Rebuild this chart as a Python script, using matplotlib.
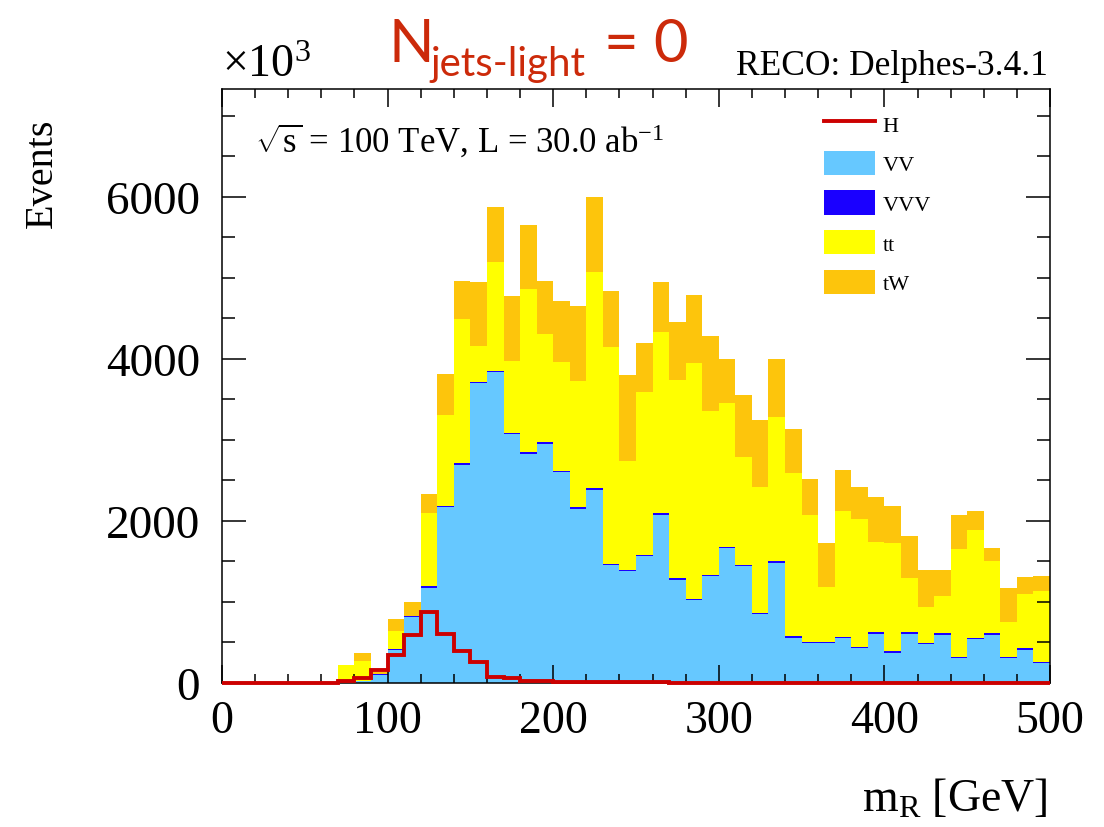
import numpy as np
import matplotlib
matplotlib.use('Agg')
from matplotlib import pyplot as plt
from matplotlib.patches import Patch
from matplotlib.lines import Line2D
from matplotlib.ticker import MultipleLocator

plt.rcParams['font.family'] = 'Liberation Serif'
plt.rcParams['mathtext.fontset'] = 'custom'
plt.rcParams['mathtext.rm'] = 'Liberation Serif'
plt.rcParams['mathtext.it'] = 'Liberation Serif:italic'

# m_R bins, 10 GeV wide, values in units of 10^3 events
edges = np.arange(0, 510, 10)
vv = [0, 0, 0, 0, 0, 0, 0, 5, 25, 100,
      410, 815, 1178, 2174, 2697, 3705, 3837, 3068, 2833, 2956,
      2606, 2154, 2388, 1454, 1384, 1569, 2080, 1277, 1022, 1322,
      1668, 1442, 849, 1487, 561, 495, 495, 557, 434, 610,
      376, 610, 479, 598, 310, 541, 598, 310, 413, 248]
vvv = [0, 0, 0, 0, 0, 0, 0, 0, 5, 5] + [15] * 40
tt = [0, 0, 0, 0, 0, 0, 0, 217, 246, 7,
      221, 0, 906, 1120, 1782, 444, 1341, 896, 2016, 1338,
      1346, 1559, 2675, 2683, 1346, 2012, 2234, 2453, 2914, 2025,
      1778, 1337, 1560, 1786, 2013, 1564, 671, 1556, 1571, 1120,
      1337, 667, 448, 457, 1329, 1333, 893, 432, 671, 877]
tw = [0, 0, 0, 0, 0, 0, 0, 0, 94, 20,
      144, 165, 234, 506, 473, 791, 679, 795, 790, 658,
      749, 930, 918, 692, 1057, 602, 626, 708, 839, 926,
      539, 765, 823, 712, 547, 445, 547, 502, 404, 555,
      457, 527, 453, 325, 420, 239, 165, 420, 206, 181]
higgs = [0, 0, 0, 0, 0, 0, 0, 30, 62, 165,
         346, 587, 882, 600, 400, 260, 80, 58, 30, 20,
         15, 12, 10, 10, 8, 8, 8, 6, 2, 2] + [2] * 20

labels = ['VV', 'VVV', 'tt', 'tW']
colors = ['#66c8ff', '#1a00ff', '#ffff00', '#fdc50c']

fig = plt.figure(figsize=(11.04, 8.28), dpi=100)
ax = fig.add_axes([222 / 1104, 1 - 684 / 828, 828 / 1104, 594 / 828])

bottom = np.zeros(len(vv))
for vals, col in zip([vv, vvv, tt, tw], colors):
    top = bottom + np.array(vals)
    ax.stairs(top, edges, baseline=bottom, fill=True, color=col, linewidth=0)
    bottom = top

ax.stairs(higgs, edges, color='#cc0000', linewidth=2.8, clip_on=False, zorder=5)

ax.set_xlim(0, 500)
ax.set_ylim(0, 7333)
ax.xaxis.set_major_locator(MultipleLocator(100))
ax.xaxis.set_minor_locator(MultipleLocator(20))
ax.yaxis.set_major_locator(MultipleLocator(2000))
ax.yaxis.set_minor_locator(MultipleLocator(500))
ax.tick_params(which='both', direction='in', top=True, right=True, width=1.1)
ax.tick_params(axis='x', which='major', length=13, labelsize=33, pad=12)
ax.tick_params(axis='x', which='minor', length=6.5)
ax.tick_params(axis='y', which='major', length=17.5, labelsize=34, pad=16)
ax.tick_params(axis='y', which='minor', length=9.5)
for s in ax.spines.values():
    s.set_linewidth(1.1)

# legend
handles = [Line2D([], [], color='#cc0000', linewidth=2.8)]
handles += [Patch(facecolor=c, edgecolor='none') for c in colors]
ax.legend(handles, ['H'] + labels, loc='upper left', bbox_to_anchor=(0.716, 0.978),
          frameon=False, fontsize=16, handlelength=2.3, handleheight=1.3,
          labelspacing=0.68, handletextpad=0.35, borderaxespad=0)

ax.text(0.04, 0.915, r'$\sqrt{\mathrm{s}}$ = 100 TeV, L = 30.0 ab$^{\mathrm{-1}}$',
        transform=ax.transAxes, fontsize=25, ha='left', va='center')

fig.text(1048 / 1104, 1 - 75 / 828, 'RECO: Delphes-3.4.1', fontsize=25.5,
         ha='right', va='baseline')
fig.text(222 / 1104, 1 - 77 / 828, r'$\times$10$^{3}$', fontsize=33,
         ha='left', va='baseline')
fig.text(42 / 1104, 1 - 118 / 828, 'Events', fontsize=29, rotation=90,
         ha='center', va='top')
fig.text(1048 / 1104, 1 - 812 / 828, r'm$_{\mathrm{R}}$ [GeV]', fontsize=33,
         ha='right', va='baseline')

# title in red sans
red = '#cc2a0a'
fig.text(388 / 1104, 1 - 62 / 828, 'N', fontsize=43, color=red, family='Lato',
         ha='left', va='baseline')
fig.text(430 / 1104, 1 - 76 / 828, 'jets-light', fontsize=29, color=red,
         family='Lato', ha='left', va='baseline')
fig.text(688 / 1104, 1 - 62 / 828, '= 0', fontsize=43, color=red, family='Lato',
         ha='right', va='baseline')

fig.savefig('out.png', dpi=100)
